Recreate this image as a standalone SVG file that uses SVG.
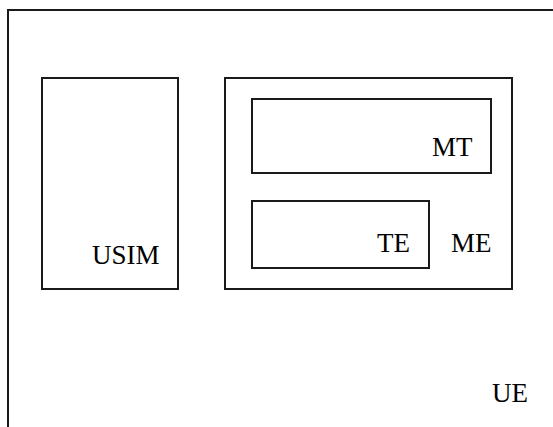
<svg xmlns="http://www.w3.org/2000/svg" width="553" height="427" viewBox="0 0 553 427">
<style>
.box{fill:none;stroke:#1a1a1a;stroke-width:2}
.lbl{font-family:"Liberation Serif","Times New Roman",serif;font-size:27px;fill:#000}
</style>
<rect x="0" y="0" width="553" height="427" fill="#fff"/>
<g id="UE">
<rect class="box" x="8" y="10" width="560" height="440"/>
<text class="lbl" x="492" y="402">UE</text>
</g>
<g id="USIM">
<rect class="box" x="42" y="78" width="136" height="211"/>
<text class="lbl" x="92" y="264">USIM</text>
</g>
<g id="ME">
<rect class="box" x="225" y="78" width="287" height="211"/>
<text class="lbl" x="451" y="252">ME</text>
</g>
<g id="MT">
<rect class="box" x="252" y="99" width="239" height="74"/>
<text class="lbl" x="432" y="156">MT</text>
</g>
<g id="TE">
<rect class="box" x="252" y="201" width="177" height="67"/>
<text class="lbl" x="377" y="252">TE</text>
</g>
<g id="connectors"></g>
</svg>
